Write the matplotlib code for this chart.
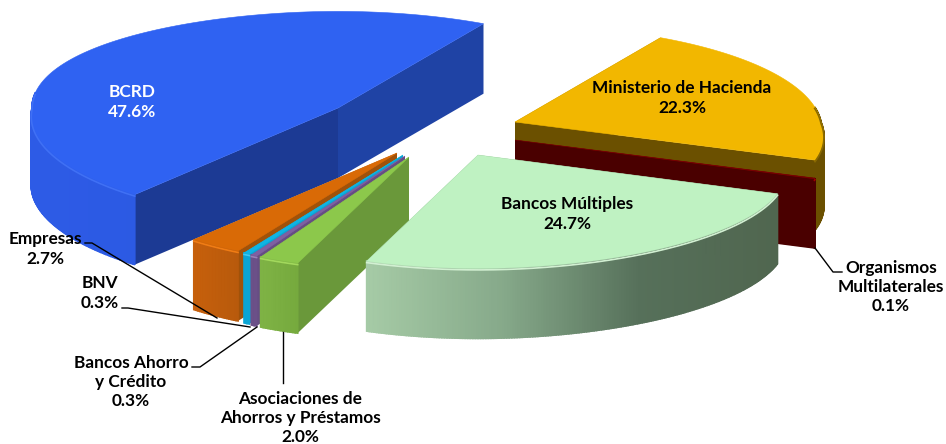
import numpy as np
import matplotlib
matplotlib.use('Agg')
import matplotlib.pyplot as plt
from matplotlib.colors import to_rgb

# participacion por sector
sectors = ['Ministerio de Hacienda', 'Organismos Multilaterales', 'Bancos Múltiples',
           'Asociaciones de Ahorros y Préstamos', 'Bancos Ahorro y Crédito', 'BNV', 'Empresas', 'BCRD']
values = [22.3, 0.1, 24.7, 2.0, 0.3, 0.3, 2.7, 47.6]

# colores: tapa, borde curvo (izq->der), cara inicial, cara final
top_colors = ['#f2b700', '#7a0000', '#bff2c2', '#8cc84b', '#7f60a2', '#0fb4e4', '#d96a06', '#2f62f2']
rim_colors = [['#6b5000', '#6b5000'], ['#4a0000', '#4a0000'],
              ['#a6cba6', '#86a98a', '#56705a', '#50664f'], ['#7fb345', '#76aa3e'],
              ['#6b5088', '#6b5088'], ['#0aa5d4', '#0aa5d4'], ['#c7600c', '#b85a0c'],
              ['#2d5be6', '#2955da']]
face_start = ['#6b5000', '#4a0000', '#50664f', '#6a983a', '#664d84', '#0aa5d4', '#a0520a', '#1c3a94']
face_end = ['#6b5000', '#4a0000', '#50664f', '#6a983a', '#664d84', '#0aa5d4', '#a0520a', '#1f43a5']
bevel_colors = ['#8a6a00', '#a00000', '#d2f0d2', '#a2d85c', '#9a80b8', '#40c8f0', '#f07c14', '#3f70f5']

# explosion de cada porcion respecto al centro
center = (428, 128)
explode_x = [87, 87, 50, -19, -23, -25, -31, -90]
explode_y = [-6, 12, 27, 29, 28, 27, 25, -20]

start_angle = -59.6
rx, ry = 306, 105
persp_x, persp_y = 0.07, 0.08
depth = 70


def project(t, ox, oy):
    s, c = np.sin(t), np.cos(t)
    return (ox + rx * c * (1 + persp_x * s + 0.07 * np.clip(s * c, 0, None)),
            oy + ry * s * (1 + persp_y * s))


def ramp(stops, f):
    stops = np.array([to_rgb(c) for c in stops])
    pos = np.linspace(0, 1, len(stops))
    return [np.interp(f, pos, stops[:, i]) for i in range(3)]


fig = plt.figure(figsize=(9.46, 4.44), dpi=100)
ax = fig.add_axes([0, 0, 1, 1])
ax.set_xlim(0, 946)
ax.set_ylim(444, 0)
ax.axis('off')

edges = start_angle + np.cumsum([0] + values) * 3.6
draw_order = [7, 0, 1, 6, 5, 4, 3, 2]

for i in draw_order:
    t = np.radians(np.linspace(edges[i], edges[i + 1], max(int(values[i] * 8), 3)))
    ox, oy = center[0] + explode_x[i], center[1] + explode_y[i]
    x, y = project(t, ox, oy)
    front = np.sin(t) > -0.15

    # caras de corte
    ax.fill([ox, x[0], x[0], ox], [oy, y[0], y[0] + depth, oy + depth], color=face_start[i], lw=0)
    ax.fill([ox, x[-1], x[-1], ox], [oy, y[-1], y[-1] + depth, oy + depth], color=face_end[i], lw=0)

    # borde curvo por tiras para el degradado, solo la parte delantera
    for j in range(len(t) - 1):
        if not front[j]:
            continue
        f = (x[j] - x.min()) / (x.max() - x.min())
        c = ramp(rim_colors[i], f)
        ax.fill([x[j], x[j + 1], x[j + 1], x[j]],
                [y[j], y[j + 1], y[j + 1] + depth, y[j] + depth], color=c, ec=c, lw=1.2)
    ax.plot(x[front], y[front] + 1.5, color=bevel_colors[i], lw=1.2)

    # tapa
    ax.fill(np.r_[ox, x], np.r_[oy, y], color=top_colors[i], ec=top_colors[i], lw=0.4)

# lineas guia
leaders = [([85, 92, 217], [243, 243, 318]),
           ([122, 128, 250], [308, 308, 327]),
           ([192, 200, 257], [367, 367, 327]),
           ([283, 283], [332, 383]),
           ([815, 833, 842], [248, 272, 272])]
for lx, ly in leaders:
    ax.plot(lx, ly, color='black', lw=1)

labels = [('BCRD\n47.6%', 132, 102, 'white'),
          ('Ministerio de Hacienda\n22.3%', 682, 98, 'black'),
          ('Bancos Múltiples\n24.7%', 567, 214, 'black'),
          ('Empresas\n2.7%', 45, 249, 'black'),
          ('BNV\n0.3%', 100, 293, 'black'),
          ('Bancos Ahorro\ny Crédito\n0.3%', 131, 382, 'black'),
          ('Asociaciones de\nAhorros y Préstamos\n2.0%', 300, 418, 'black'),
          ('Organismos\nMultilaterales\n0.1%', 891, 287, 'black')]
for txt, lx, ly, col in labels:
    ax.text(lx, ly, txt, ha='center', va='center', color=col, fontsize=12.4,
            fontweight='bold', family='Lato', linespacing=1.25)

fig.savefig('out.png', dpi=100)
